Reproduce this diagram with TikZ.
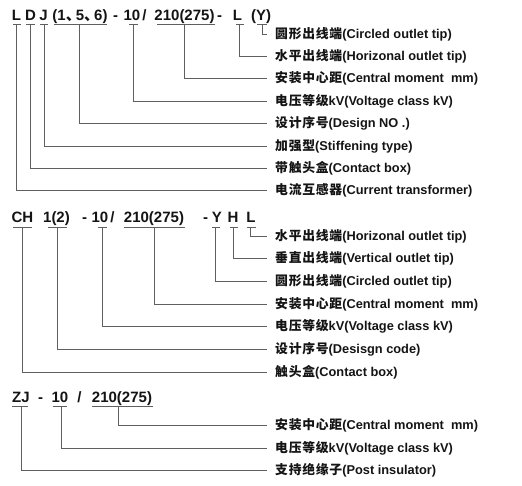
\documentclass[tikz,border=0pt]{standalone}
\usepackage{fontspec}
\setmainfont{Liberation Sans}
\newfontfamily\cjk[LetterSpace=6]{Noto Sans CJK SC}
\newcommand\zh[1]{{\cjk #1}}
\definecolor{linegray}{RGB}{95,95,95}
\definecolor{ink}{RGB}{20,20,20}
\begin{document}
\begin{tikzpicture}[x=1pt,y=-1pt,
  hdr/.style={anchor=base,inner sep=0pt,text=ink,font=\fontsize{15}{18}\selectfont\bfseries},
  lab/.style={anchor=west,inner xsep=8pt,inner ysep=0pt,text=ink,font=\fontsize{12.8}{15}\selectfont\bfseries},
  ul/.style={draw=linegray,line width=0.9pt},
  conn/.style={draw=linegray,line width=0.9pt}]
\useasboundingbox (0,0) rectangle (522,485);

% ---------------- Block 1 ----------------
\node[hdr] (a1) at (16.5,20) {L};
\node[hdr] (a2) at (30.5,20) {D};
\node[hdr] (a3) at (43.5,20) {J};
\node[hdr] (a4) at (80,20) {(1\zh{、}\kern-5pt 5\zh{、}\kern-5pt 6)};
\node[hdr] (a5) at (115.5,20) {-};
\node[hdr] (a6) at (132,20) {10};
\node[hdr] (a7) at (144.5,20) {/};
\node[hdr] (a8) at (184.5,20) {210(275)};
\node[hdr] (a9) at (219.5,20) {-};
\node[hdr] (a10) at (237.5,20) {L};
\node[hdr] (a11) at (261,20) {(Y)};

\draw[ul] (13,24) -- (21,24);
\draw[ul] (26,24) -- (35,24);
\draw[ul] (40,24) -- (48,24);
\draw[ul] (54,24) -- (107,24);
\draw[ul] (129,24) -- (138,24);
\draw[ul] (157,24) -- (215,24);
\draw[ul] (236,24) -- (244,24);
\draw[ul] (257,24) -- (267,24);

\node[lab] (b1) at (267,34) {\zh{圆形出线端}(Circled outlet tip)};
\node[lab] (b2) at (267,56.4) {\zh{水平出线端}(Horizonal outlet tip)};
\node[lab] (b3) at (267,78.8) {\zh{安装中心距}(Central moment\ \ mm)};
\node[lab] (b4) at (267,101.2) {\zh{电压等级}kV(Voltage class kV)};
\node[lab] (b5) at (267,123.6) {\zh{设计序号}(Design NO .)};
\node[lab] (b6) at (267,146) {\zh{加强型}(Stiffening type)};
\node[lab] (b7) at (267,168.4) {\zh{带触头盒}(Contact box)};
\node[lab] (b8) at (267,190.8) {\zh{电流互感器}(Current transformer)};

\coordinate (v1) at (262,24);
\coordinate (v2) at (239.5,24);
\coordinate (v3) at (184,24);
\coordinate (v4) at (133.3,24);
\coordinate (v5) at (79,24);
\coordinate (v6) at (44,24);
\coordinate (v7) at (30.7,24);
\coordinate (v8) at (16.7,24);
\foreach \i in {1,...,8}{\draw[conn] (v\i) |- (b\i.west);}

% ---------------- Block 2 ----------------
\node[hdr] (c1) at (22.5,222.3) {CH};
\node[hdr] (c2) at (56.5,222.3) {1(2)};
\node[hdr] (c3) at (84.5,222.3) {-};
\node[hdr] (c4) at (100,222.3) {10};
\node[hdr] (c5) at (112.5,222.3) {/};
\node[hdr] (c6) at (154,222.3) {210(275)};
\node[hdr] (c7) at (205.5,222.3) {-};
\node[hdr] (c8) at (217,222.3) {Y};
\node[hdr] (c9) at (233,222.3) {H};
\node[hdr] (c10) at (251,222.3) {L};

\draw[ul] (13,227.5) -- (32,227.5);
\draw[ul] (48,227.5) -- (67,227.5);
\draw[ul] (98,227.5) -- (107,227.5);
\draw[ul] (124,227.5) -- (185,227.5);
\draw[ul] (212,227.5) -- (220,227.5);
\draw[ul] (230,227.5) -- (238,227.5);
\draw[ul] (247,227.5) -- (256,227.5);

\node[lab] (d1) at (267,236) {\zh{水平出线端}(Horizonal outlet tip)};
\node[lab] (d2) at (267,258.7) {\zh{垂直出线端}(Vertical outlet tip)};
\node[lab] (d3) at (267,281.4) {\zh{圆形出线端}(Circled outlet tip)};
\node[lab] (d4) at (267,304.1) {\zh{安装中心距}(Central moment\ \ mm)};
\node[lab] (d5) at (267,326.8) {\zh{电压等级}kV(Voltage class kV)};
\node[lab] (d6) at (267,349.5) {\zh{设计序号}(Desisgn code)};
\node[lab] (d7) at (267,372.2) {\zh{触头盒}(Contact box)};

\coordinate (w1) at (250.7,227.5);
\coordinate (w2) at (233.3,227.5);
\coordinate (w3) at (215,227.5);
\coordinate (w4) at (154,227.5);
\coordinate (w5) at (102.7,227.5);
\coordinate (w6) at (57.3,227.5);
\coordinate (w7) at (22.7,227.5);
\foreach \i in {1,...,7}{\draw[conn] (w\i) |- (d\i.west);}

% ---------------- Block 3 ----------------
\node[hdr] (e1) at (21,402.3) {ZJ};
\node[hdr] (e2) at (40.5,402.3) {-};
\node[hdr] (e3) at (60,402.3) {10};
\node[hdr] (e4) at (79.5,402.3) {/};
\node[hdr] (e5) at (122,402.3) {210(275)};

\draw[ul] (12,406.7) -- (28,406.7);
\draw[ul] (53,406.7) -- (67,406.7);
\draw[ul] (92,406.7) -- (153,406.7);

\node[lab] (f1) at (267,425.7) {\zh{安装中心距}(Central moment\ \ mm)};
\node[lab] (f2) at (267,448.3) {\zh{电压等级}kV(Voltage class kV)};
\node[lab] (f3) at (267,470) {\zh{支持绝缘子}(Post insulator)};

\coordinate (z1) at (118.3,406.7);
\coordinate (z2) at (61.7,406.7);
\coordinate (z3) at (21.7,406.7);
\foreach \i in {1,...,3}{\draw[conn] (z\i) |- (f\i.west);}
\end{tikzpicture}
\end{document}
